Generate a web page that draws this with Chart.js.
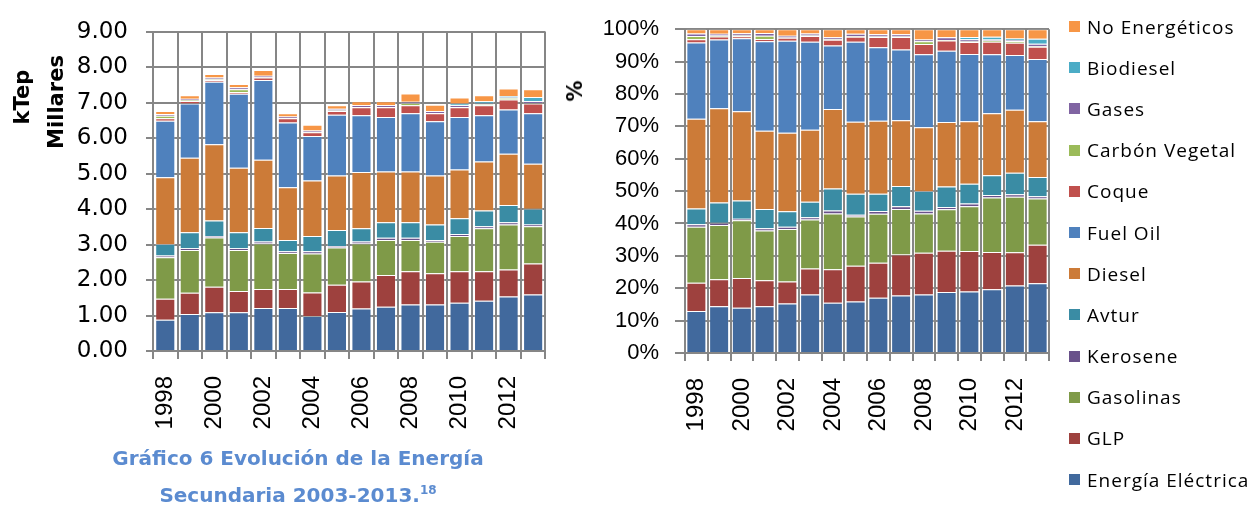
<!DOCTYPE html>
<html>
<head>
<meta charset="utf-8">
<script src="https://cdn.jsdelivr.net/npm/chart.js@4.4.1/dist/chart.umd.min.js"></script>
<style>
  body { margin: 0; background: #fff; width: 1254px; height: 506px; position: relative; overflow: hidden; font-family: 'DejaVu Sans', sans-serif; }
  canvas { position: absolute; top: 0; }
  #leftChart { left: 0; }
  #rightChart { left: 580px; }
  .ytitle { position: absolute; font-weight: bold; font-size: 21px; white-space: nowrap; transform: translate(-50%, -50%) rotate(-90deg); color: #000; }
  #caption { position: absolute; left: 48px; top: 440px; width: 500px; text-align: center; color: #5b8bd0; font-weight: bold; font-size: 20px; line-height: 37px; }
  #caption sup { font-size: 12px; line-height: 0; }
  #legend { position: absolute; left: 1069px; top: 6px; }
  .item { height: 41.2px; display: flex; align-items: center; font-family: 'Open Sans', sans-serif; font-size: 19px; letter-spacing: 1px; color: #000; white-space: nowrap; }
  .box { width: 11px; height: 11px; margin-right: 7px; }
</style>
</head>
<body>
<canvas id="leftChart" width="580" height="506"></canvas>
<canvas id="rightChart" width="674" height="506"></canvas>
<div class="ytitle" style="left:22px;top:97px">kTep</div>
<div class="ytitle" style="left:56px;top:102px">Millares</div>
<div class="ytitle" style="left:575px;top:91px">%</div>
<div id="caption">Gráfico 6 Evolución de la Energía<br>Secundaria 2003-2013.<sup>18</sup></div>
<div id="legend"></div>
<script>
// years on the x axis
const years = ['1998','1999','2000','2001','2002','2003','2004','2005','2006','2007','2008','2009','2010','2011','2012','2013'];

// kTep (thousands)
const electrica = [0.88,1.04,1.09,1.09,1.21,1.21,0.99,1.10,1.20,1.25,1.31,1.31,1.36,1.42,1.54,1.59];
const glp       = [0.59,0.60,0.72,0.60,0.54,0.54,0.66,0.77,0.76,0.89,0.94,0.88,0.89,0.83,0.76,0.88];
const gasolinas = [1.17,1.21,1.39,1.16,1.28,1.01,1.10,1.05,1.07,0.99,0.88,0.89,0.99,1.21,1.27,1.05];
const kerosene  = [0.05,0.05,0.04,0.05,0.06,0.05,0.06,0.04,0.06,0.06,0.06,0.05,0.06,0.06,0.06,0.05];
const avtur     = [0.33,0.45,0.44,0.45,0.38,0.32,0.43,0.45,0.37,0.44,0.44,0.44,0.44,0.44,0.49,0.44];
const diesel    = [1.88,2.10,2.15,1.82,1.92,1.49,1.57,1.54,1.59,1.43,1.43,1.38,1.38,1.38,1.44,1.27];
const fuelOil   = [1.59,1.53,1.76,2.08,2.25,1.82,1.25,1.71,1.60,1.54,1.64,1.53,1.48,1.31,1.25,1.42];
const coque     = [0.07,0.07,0.05,0.05,0.07,0.12,0.11,0.11,0.22,0.27,0.23,0.22,0.27,0.28,0.28,0.28];
const carbon    = [0.07,0.02,0.02,0.08,0.01,0.01,0.01,0.01,0.01,0.01,0.06,0.01,0.01,0.03,0.04,0.01];
const gases     = [0.05,0.04,0.05,0.06,0.04,0.04,0.04,0.05,0.05,0.05,0.04,0.06,0.05,0.02,0.02,0.06];
const biodiesel = [0,0,0,0,0,0,0,0,0,0,0,0,0.05,0.06,0.04,0.11];
const noEnerg   = [0.09,0.10,0.10,0.09,0.16,0.09,0.16,0.10,0.11,0.11,0.23,0.17,0.17,0.17,0.21,0.22];

const seriesNames = ['Energía Eléctrica','GLP','Gasolinas','Kerosene','Avtur','Diesel','Fuel Oil','Coque','Carbón Vegetal','Gases','Biodiesel','No Energéticos'];
const seriesData = [electrica, glp, gasolinas, kerosene, avtur, diesel, fuelOil, coque, carbon, gases, biodiesel, noEnerg];
const seriesColors = ['#41699d','#9e413e','#7f9a48','#69518a','#3a8ca4','#cc7b38','#4f81bd','#c0504d','#9bbb59','#8064a2','#4bacc6','#f79646'];

// y ticks
const leftTicks = { min: 0, max: 9, step: 1 };
const rightTicks = { min: 0, max: 100, step: 10 };

// share of each year's total, for the 100% chart
const totals = years.map((_, i) => seriesData.reduce((s, arr) => s + arr[i], 0));
const shares = seriesData.map(arr => arr.map((v, i) => v / totals[i] * 100));

const gridColor = '#868686';

function makeDatasets(values, barPct) {
  return seriesNames.map((name, k) => ({
    label: name,
    data: values[k],
    backgroundColor: seriesColors[k],
    borderColor: 'rgba(255,255,255,0.25)',
    borderWidth: 1,
    categoryPercentage: 1,
    barPercentage: barPct,
  }));
}

function xAxis(axisHeight) {
  return {
    stacked: true,
    grid: { color: gridColor, lineWidth: 2, tickLength: 8, offset: true },
    border: { color: gridColor, width: 2 },
    ticks: {
      autoSkip: false,
      minRotation: 90,
      maxRotation: 90,
      padding: 17,
      color: '#000',
      font: { family: "'Liberation Sans'", size: 24 },
      callback: function (val, idx) { return idx % 2 === 0 ? this.getLabelForValue(val) : ''; },
    },
    afterFit: (scale) => { scale.height = axisHeight; },
  };
}

new Chart(document.getElementById('leftChart'), {
  type: 'bar',
  data: { labels: years, datasets: makeDatasets(seriesData, 0.82) },
  options: {
    responsive: false,
    animation: false,
    layout: { padding: { top: 24, right: 34, left: 0, bottom: 0 } },
    plugins: { legend: { display: false }, tooltip: { enabled: false } },
    scales: {
      x: xAxis(155),
      y: {
        stacked: true,
        min: leftTicks.min,
        max: leftTicks.max,
        grid: { color: gridColor, lineWidth: 2, tickLength: 7 },
        border: { color: gridColor, width: 2 },
        ticks: {
          stepSize: leftTicks.step,
          padding: 18,
          color: '#000',
          font: { family: "'DejaVu Sans'", size: 23 },
          callback: (v) => v.toFixed(2),
        },
        afterFit: (scale) => { scale.width = 153; },
      },
    },
  },
});

new Chart(document.getElementById('rightChart'), {
  type: 'bar',
  data: { labels: years, datasets: makeDatasets(shares, 0.88) },
  options: {
    responsive: false,
    animation: false,
    layout: { padding: { top: 29, right: 205, left: 0, bottom: 0 } },
    plugins: { legend: { display: false }, tooltip: { enabled: false } },
    scales: {
      x: xAxis(153),
      y: {
        stacked: true,
        min: rightTicks.min,
        max: rightTicks.max,
        grid: { color: gridColor, lineWidth: 2, tickLength: 10 },
        border: { color: gridColor, width: 2 },
        ticks: {
          stepSize: rightTicks.step,
          padding: 16,
          color: '#000',
          font: { family: "'Liberation Sans'", size: 22 },
          callback: (v) => v + '%',
        },
        afterFit: (scale) => { scale.width = 105; },
      },
    },
  },
});

// legend, top item is the last series
const legend = document.getElementById('legend');
for (let k = seriesNames.length - 1; k >= 0; k--) {
  const row = document.createElement('div');
  row.className = 'item';
  row.innerHTML = '<span class="box" style="background:' + seriesColors[k] + '"></span>' + seriesNames[k];
  legend.appendChild(row);
}
</script>
</body>
</html>
